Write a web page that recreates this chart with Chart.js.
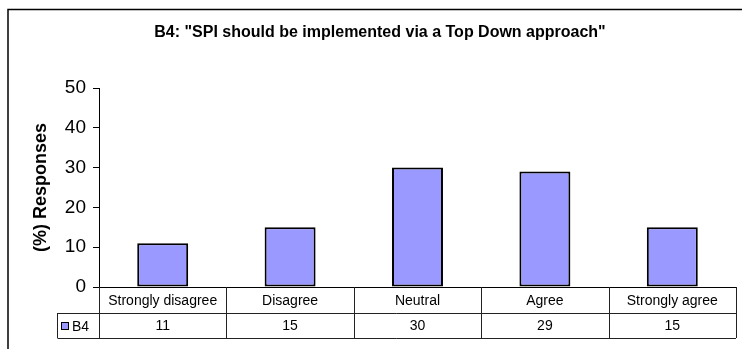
<!DOCTYPE html>
<html>
<head>
<meta charset="utf-8">
<script src="https://cdn.jsdelivr.net/npm/chart.js@4/dist/chart.umd.min.js"></script>
<style>
  html, body { margin: 0; padding: 0; background: #fff; }
  canvas { display: block; }
</style>
</head>
<body>
<canvas id="b4Chart" width="742" height="349"></canvas>
<script>
const categories = ['Strongly disagree', 'Disagree', 'Neutral', 'Agree', 'Strongly agree'];
const seriesName = 'B4';
const responses = [11, 15, 30, 29, 15];
const yTicks = [0, 10, 20, 30, 40, 50];
const chartTitle = 'B4: "SPI should be implemented via a Top Down approach"';

const FONT = '"Liberation Sans", Arial, sans-serif';
const BAR_FILL = '#9999FF';

// frame, title and the data table under the plot
const tablePlugin = {
  id: 'dataTable',
  afterDraw(chart) {
    const ctx = chart.ctx;
    const area = chart.chartArea;
    const x = chart.scales.x;
    const n = categories.length;
    const colW = (area.right - area.left) / n;
    const top = area.bottom;
    const mid = top + 26;
    const bottom = mid + 25;
    const legendLeft = 57.5;

    ctx.save();
    ctx.strokeStyle = '#000';
    ctx.lineWidth = 1.5;
    ctx.beginPath();
    ctx.moveTo(8, 349);
    ctx.lineTo(8, 9.5);
    ctx.lineTo(742, 9.5);
    ctx.stroke();

    ctx.fillStyle = '#000';
    ctx.font = 'bold 16px ' + FONT;
    ctx.textAlign = 'center';
    ctx.textBaseline = 'middle';
    ctx.fillText(chartTitle, 380, 33);

    ctx.lineWidth = 1;
    ctx.strokeStyle = '#222';
    ctx.beginPath();
    ctx.moveTo(legendLeft, mid + 0.5);
    ctx.lineTo(area.right, mid + 0.5);
    ctx.moveTo(legendLeft, bottom + 0.5);
    ctx.lineTo(area.right, bottom + 0.5);
    ctx.moveTo(legendLeft, mid);
    ctx.lineTo(legendLeft, bottom);
    for (let i = 0; i <= n; i++) {
      const bx = Math.round(area.left + i * colW) + 0.5;
      ctx.moveTo(bx, top);
      ctx.lineTo(bx, bottom);
    }
    ctx.stroke();

    ctx.font = '14px ' + FONT;
    ctx.fillStyle = '#000';
    categories.forEach((c, i) => {
      const cx = x.getPixelForValue(i);
      ctx.fillText(c, cx, (top + mid) / 2 + 1);
      ctx.fillText(String(responses[i]), cx, (mid + bottom) / 2 + 1);
    });

    // legend key
    ctx.fillStyle = BAR_FILL;
    ctx.fillRect(61, 322, 8, 8);
    ctx.strokeStyle = '#000';
    ctx.strokeRect(61.5, 322.5, 7, 7);
    ctx.fillStyle = '#000';
    ctx.textAlign = 'left';
    ctx.fillText(seriesName, 72, (mid + bottom) / 2 + 2);
    ctx.restore();
  }
};

new Chart(document.getElementById('b4Chart'), {
  type: 'bar',
  data: {
    labels: categories,
    datasets: [{
      label: seriesName,
      data: responses,
      backgroundColor: BAR_FILL,
      borderColor: '#000',
      borderWidth: 2,
      borderSkipped: false,
      categoryPercentage: 1,
      barPercentage: 0.4
    }]
  },
  options: {
    responsive: false,
    animation: false,
    layout: { padding: { left: 26, right: 6, top: 88, bottom: 11 } },
    plugins: {
      legend: { display: false },
      tooltip: { enabled: false }
    },
    scales: {
      x: {
        ticks: { display: false },
        grid: { display: false },
        border: { display: true, color: '#000', width: 1 },
        afterFit(scale) { scale.height = 51; }
      },
      y: {
        min: 0,
        max: 50,
        afterBuildTicks(scale) { scale.ticks = yTicks.map(v => ({ value: v })); },
        ticks: {
          color: '#000',
          font: { family: FONT, size: 19 },
          padding: 7
        },
        grid: { drawOnChartArea: false, tickLength: 6, color: '#000' },
        border: { color: '#000', width: 1 },
        title: {
          display: true,
          text: '(%) Responses',
          color: '#000',
          font: { family: FONT, size: 18, weight: 'bold' }
        },
        afterFit(scale) { scale.width = 73; }
      }
    }
  },
  plugins: [tablePlugin]
});
</script>
</body>
</html>
